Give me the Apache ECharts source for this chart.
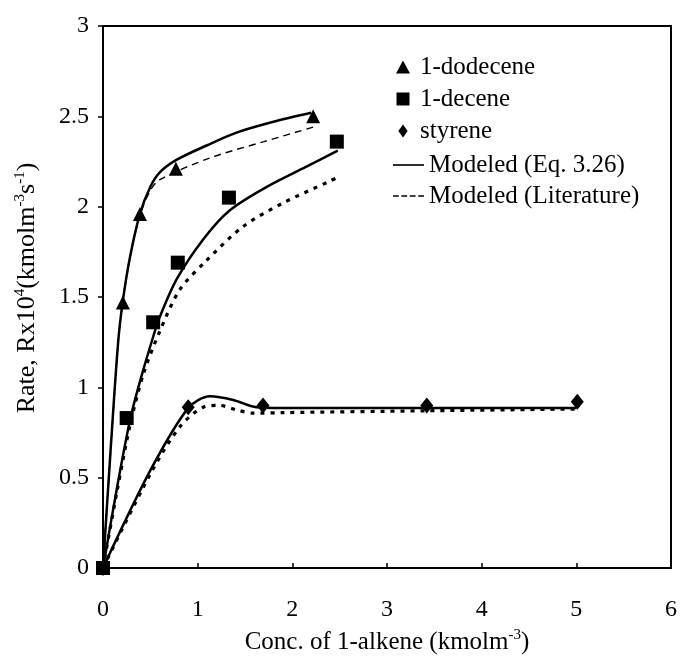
<!DOCTYPE html>
<html>
<head>
<meta charset="utf-8">
<script src="https://cdn.jsdelivr.net/npm/echarts@6/dist/echarts.min.js"></script>
<style>
html,body{margin:0;padding:0;background:#fff;}
#chart{width:680px;height:664px;}
</style>
</head>
<body>
<div id="chart"></div>
<script>
// ---- data (x = concentration kmol/m3, y = rate x10^4) ----
const xTicks = [0, 1, 2, 3, 4, 5, 6];
const yTicks = [0, 0.5, 1, 1.5, 2, 2.5, 3];

const dodeceneX = [0, 0.21, 0.39, 0.77, 2.22];
const dodeceneY = [0, 1.47, 1.96, 2.21, 2.50];
const deceneX = [0, 0.25, 0.53, 0.79, 1.33, 2.47];
const deceneY = [0, 0.83, 1.36, 1.69, 2.05, 2.36];
const styreneX = [0, 0.90, 1.69, 3.42, 5.01];
const styreneY = [0, 0.89, 0.90, 0.90, 0.92];

// Modeled (Eq. 3.26)
const dodModelX = [0, 0.08, 0.16, 0.21, 0.285, 0.39, 0.50, 0.60, 0.78, 1.10, 1.41, 1.80, 2.20];
const dodModelY = [0, 0.65, 1.25, 1.48, 1.72, 1.96, 2.11, 2.19, 2.26, 2.34, 2.41, 2.47, 2.52];
const decModelX = [0, 0.15, 0.29, 0.40, 0.53, 0.60, 0.78, 1.06, 1.34, 1.73, 2.18, 2.48];
const decModelY = [0, 0.45, 0.83, 1.05, 1.28, 1.39, 1.60, 1.82, 1.98, 2.11, 2.23, 2.31];
const styModelX = [0, 0.50, 0.90, 1.13, 1.375, 1.62, 2.08, 3.40, 5.00];
const styModelY = [0, 0.54, 0.885, 0.95, 0.93, 0.89, 0.885, 0.885, 0.885];

// Modeled (Literature)
const dodLitX = [0, 0.16, 0.21, 0.285, 0.39, 0.50, 0.60, 1.13, 1.70, 2.22];
const dodLitY = [0, 1.25, 1.48, 1.72, 1.95, 2.09, 2.15, 2.27, 2.36, 2.44];
const decLitX = [0, 0.15, 0.29, 0.43, 0.60, 0.81, 1.09, 1.48, 1.90, 2.39, 2.47];
const decLitY = [0, 0.43, 0.80, 1.08, 1.31, 1.54, 1.70, 1.89, 2.02, 2.14, 2.16];
const styLitX = [0, 0.50, 0.81, 1.06, 1.23, 1.41, 1.59, 1.90, 3.40, 5.00];
const styLitY = [0, 0.52, 0.78, 0.89, 0.90, 0.875, 0.857, 0.86, 0.87, 0.88];

const zip = (xs, ys) => xs.map((x, i) => [x, ys[i]]);

const FONT = 'Liberation Serif';
const chart = echarts.init(document.getElementById('chart'), null, {renderer: 'canvas'});

function lineSeries(name, xs, ys, lineStyle) {
  return {
    name: name, type: 'line', data: zip(xs, ys), symbol: 'none',
    smooth: 0.3, lineStyle: Object.assign({color: '#000'}, lineStyle),
    itemStyle: {color: '#000'}, z: 2, silent: true
  };
}

const legendText = {fontFamily: FONT, fontSize: 25, color: '#000', lineHeight: 30};
const supStyle = {sup: {fontFamily: FONT, fontSize: 15, verticalAlign: 'top', lineHeight: 14, color: '#000'}};

chart.setOption({
  animation: false,
  backgroundColor: '#fff',
  textStyle: {fontFamily: FONT, color: '#000'},
  grid: {left: 103, right: 8, top: 26, bottom: 96, show: true, borderColor: '#000', borderWidth: 2},
  legend: [
    {
      orient: 'vertical', left: 391, top: 47,
      itemWidth: 14, itemHeight: 13, itemGap: 2,
      textStyle: Object.assign({padding: [0, 0, 0, 5]}, legendText),
      data: [
        {name: '1-dodecene', icon: 'triangle'},
        {name: '1-decene', icon: 'path://M0,0H10V10H0Z'},
        {name: 'styrene', icon: 'path://M5,0L10,7L5,14L0,7Z'}
      ],
      selectedMode: false
    },
    {
      orient: 'vertical', left: 388, top: 145,
      itemWidth: 31, itemHeight: 2, itemGap: 1,
      textStyle: legendText,
      data: [
        {name: 'Modeled (Eq. 3.26)', icon: 'path://M0,0H30V1.6H0Z'},
        {name: 'Modeled (Literature)', icon: 'path://M0,0H5.5V1.6H0Z M8,0H13.5V1.6H8Z M16,0H21.5V1.6H16Z M24,0H29.5V1.6H24Z'}
      ],
      selectedMode: false
    }
  ],
  xAxis: {
    type: 'value', min: 0, max: 6, interval: 1,
    axisLine: {lineStyle: {color: '#000', width: 2}},
    axisTick: {inside: true, length: 5, lineStyle: {color: '#000', width: 1.5}},
    axisLabel: {fontFamily: FONT, fontSize: 24, color: '#000', margin: 30},
    splitLine: {show: false},
    name: 'Conc. of 1-alkene (kmolm{sup|-3})',
    nameLocation: 'middle', nameGap: 60,
    nameTextStyle: {fontFamily: FONT, fontSize: 25, color: '#000', lineHeight: 28, rich: supStyle}
  },
  yAxis: {
    type: 'value', min: 0, max: 3, interval: 0.5,
    axisLine: {lineStyle: {color: '#000', width: 2}},
    axisTick: {inside: false, length: 5, lineStyle: {color: '#000', width: 1.5}},
    axisLabel: {fontFamily: FONT, fontSize: 24, color: '#000', margin: 14},
    splitLine: {show: false},
    name: 'Rate, Rx10{sup|4}(kmolm{sup|-3}s{sup|-1})',
    nameLocation: 'middle', nameGap: 62,
    nameTextStyle: {fontFamily: FONT, fontSize: 26, color: '#000', lineHeight: 28, padding: [0, 0, 0, 18], rich: supStyle}
  },
  series: [
    lineSeries('Modeled (Eq. 3.26)', dodModelX, dodModelY, {width: 2.5, type: 'solid'}),
    lineSeries('Modeled (Eq. 3.26)', decModelX, decModelY, {width: 2.5, type: 'solid'}),
    lineSeries('Modeled (Eq. 3.26)', styModelX, styModelY, {width: 2.5, type: 'solid'}),
    lineSeries('Modeled (Literature)', dodLitX, dodLitY, {width: 1.4, type: [7, 5]}),
    lineSeries('Modeled (Literature)', decLitX, decLitY, {width: 3.2, type: [4, 6]}),
    lineSeries('Modeled (Literature)', styLitX, styLitY, {width: 3.2, type: [4, 6]}),
    {name: '1-dodecene', type: 'scatter', data: zip(dodeceneX, dodeceneY), symbol: 'triangle', symbolSize: 14, itemStyle: {color: '#000', opacity: 1}, z: 5},
    {name: '1-decene', type: 'scatter', data: zip(deceneX, deceneY), symbol: 'rect', symbolSize: 14, itemStyle: {color: '#000', opacity: 1}, z: 5},
    {name: 'styrene', type: 'scatter', data: zip(styreneX, styreneY), symbol: 'diamond', symbolSize: [13, 16], itemStyle: {color: '#000', opacity: 1}, z: 5}
  ]
});
</script>
</body>
</html>
